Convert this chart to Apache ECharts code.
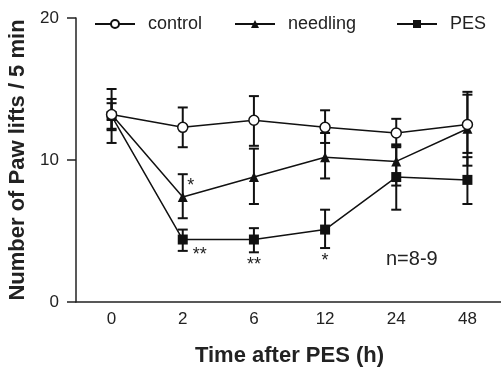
<!DOCTYPE html>
<html>
<head>
<meta charset="utf-8">
<script src="https://cdn.jsdelivr.net/npm/echarts@6/dist/echarts.min.js"></script>
<style>
  html, body { margin: 0; padding: 0; background: #fff; }
  #chart { width: 501px; height: 367px; }
</style>
</head>
<body>
<div id="chart"></div>
<script>
// time points (h)
const times = ['0', '2', '6', '12', '24', '48'];

// means
const control = [13.2, 12.3, 12.8, 12.3, 11.9, 12.5];
const needling = [13.2, 7.4, 8.8, 10.2, 9.9, 12.2];
const pes = [13.1, 4.4, 4.4, 5.1, 8.8, 8.6];

// error bar ends [low, high]
const controlErr = [[12.1, 14.3], [10.9, 13.7], [11.0, 14.5], [11.2, 13.5], [10.9, 12.9], [10.5, 14.6]];
const needlingErr = [[11.2, 15.0], [5.9, 9.0], [6.9, 10.8], [8.7, 11.9], [8.2, 11.0], [9.6, 14.8]];
const pesErr = [[12.2, 14.0], [3.6, 5.1], [3.5, 5.2], [3.8, 6.5], [6.5, 11.1], [6.9, 10.2]];

// significance marks [category index, y value, text]
const stars = [[1, 8.2, '*'], [1, 3.3, '**'], [2, 2.6, '**'], [3, 2.9, '*']];
const starOffsetX = [8, 17, 0, 0];

const font = '"Liberation Sans", Arial, Helvetica, sans-serif';

function errSeries(errs) {
  return {
    type: 'custom',
    z: 1,
    silent: true,
    data: errs.map((e, i) => [i, e[0], e[1]]),
    renderItem: function (params, api) {
      const lo = api.coord([api.value(0), api.value(1)]);
      const hi = api.coord([api.value(0), api.value(2)]);
      const w = 5;
      const st = { stroke: '#111', lineWidth: 2 };
      return {
        type: 'group',
        children: [
          { type: 'line', shape: { x1: lo[0], y1: lo[1], x2: hi[0], y2: hi[1] }, style: st },
          { type: 'line', shape: { x1: lo[0] - w, y1: lo[1], x2: lo[0] + w, y2: lo[1] }, style: st },
          { type: 'line', shape: { x1: hi[0] - w, y1: hi[1], x2: hi[0] + w, y2: hi[1] }, style: st }
        ]
      };
    }
  };
}

function legendAt(name, left) {
  return {
    left: left, top: 10,
    itemWidth: 40, itemHeight: 10,
    textStyle: { fontSize: 18, color: '#222', fontFamily: font, padding: [0, 0, 0, 8] },
    data: [name]
  };
}

const chart = echarts.init(document.getElementById('chart'));
chart.setOption({
  animation: false,
  backgroundColor: '#fff',
  textStyle: { fontFamily: font },
  grid: { left: 76, right: -2, top: 18, bottom: 65, containLabel: false, outerBoundsMode: 'none' },
  legend: [legendAt('control', 89), legendAt('needling', 229), legendAt('PES', 391)],
  xAxis: {
    type: 'category',
    data: times,
    boundaryGap: true,
    name: 'Time after PES (h)',
    nameLocation: 'middle',
    nameGap: 43,
    nameTextStyle: { fontSize: 22, fontWeight: 'bold', color: '#222', fontFamily: font },
    axisLine: { lineStyle: { color: '#222', width: 1.5 } },
    axisTick: { alignWithLabel: true, length: 7, lineStyle: { color: '#222', width: 1.5 } },
    axisLabel: { fontSize: 17, color: '#222', margin: 9, fontFamily: font }
  },
  yAxis: {
    type: 'value',
    min: 0, max: 20, interval: 10,
    name: 'Number of Paw lifts / 5 min',
    nameLocation: 'middle',
    nameGap: 47,
    nameTextStyle: { fontSize: 22, fontWeight: 'bold', color: '#222', fontFamily: font },
    splitLine: { show: false },
    axisLine: { show: true, lineStyle: { color: '#222', width: 1.5 } },
    axisTick: { show: true, length: 9, lineStyle: { color: '#222', width: 1.5 } },
    axisLabel: { fontSize: 17, color: '#222', margin: 17, fontFamily: font }
  },
  graphic: [{
    type: 'text', left: 386, top: 249,
    style: { text: 'n=8-9', fontSize: 20, fill: '#222', fontFamily: font }
  }],
  series: [
    errSeries(controlErr),
    errSeries(needlingErr),
    errSeries(pesErr),
    {
      name: 'PES', type: 'line', data: pes, z: 3,
      symbol: 'rect', symbolSize: 10,
      lineStyle: { color: '#111', width: 1.5 },
      itemStyle: { color: '#111' }
    },
    {
      name: 'needling', type: 'line', data: needling, z: 4,
      symbol: 'triangle', symbolSize: 10,
      lineStyle: { color: '#111', width: 1.5 },
      itemStyle: { color: '#111' }
    },
    {
      name: 'control', type: 'line', data: control, z: 5,
      symbol: 'circle', symbolSize: 10,
      lineStyle: { color: '#111', width: 1.5 },
      itemStyle: { color: '#fff', borderColor: '#111', borderWidth: 1.5 }
    },
    {
      type: 'custom', z: 6, silent: true,
      data: stars.map((s, i) => [s[0], s[1], s[2], starOffsetX[i]]),
      renderItem: function (params, api) {
        const p = api.coord([api.value(0), api.value(1)]);
        const d = stars[params.dataIndex];
        return {
          type: 'text',
          x: p[0] + starOffsetX[params.dataIndex], y: p[1],
          style: { text: d[2], fontSize: 18, fill: '#222', align: 'center', verticalAlign: 'middle', fontFamily: font }
        };
      }
    }
  ]
});
</script>
</body>
</html>
